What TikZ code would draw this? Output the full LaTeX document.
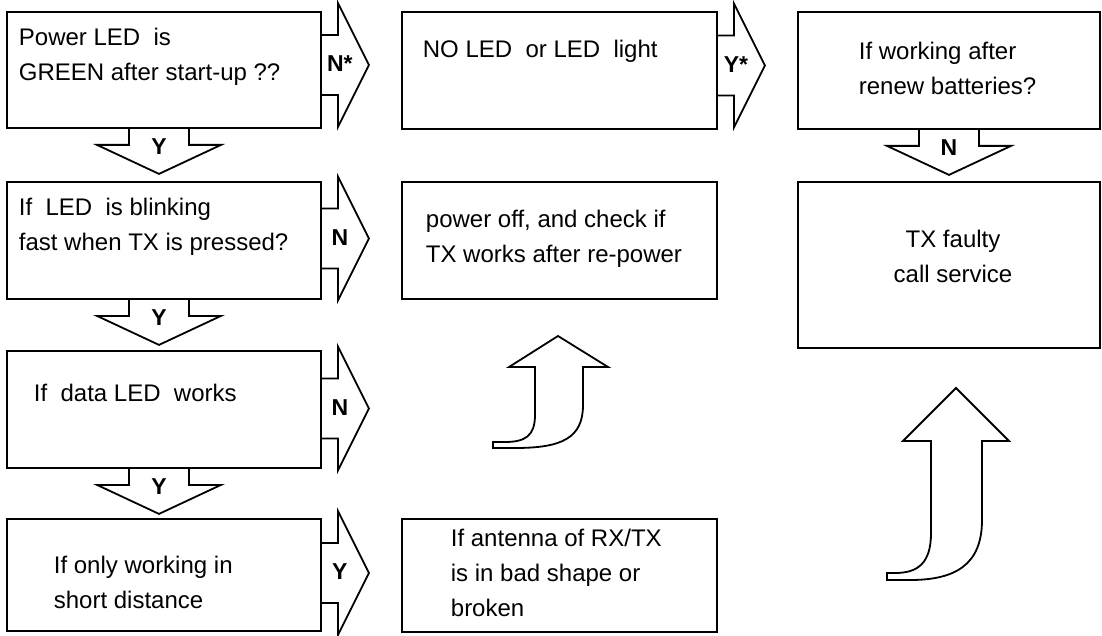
\documentclass[tikz,border=0pt]{standalone}
\usepackage{fontspec}
\setmainfont{Liberation Sans}
\usepackage{tikz}
\usetikzlibrary{positioning}

\tikzset{
    pics/rarr/.style={code={
        \draw[blk] (0,-30) -- (16,-30) -- (16,-62) -- (47,0) -- (16,62) -- (16,30) -- (0,30);
        \node[lbl] (-t) at (18,-1) {#1};
    }},
    pics/darr/.style={code={
        \draw[blk] (-30,0) -- (-30,16) -- (-62,16) -- (0,45) -- (62,16) -- (30,16) -- (30,0);
        \node[lbl] (-t) at (0,18) {#1};
    }}
}

\begin{document}
\begin{tikzpicture}[x=1pt, y=-1pt, line width=1.8pt,
    box/.style={draw, inner sep=0pt},
    txt/.style={anchor=base west, align=left, inner sep=0pt, font=\fontsize{24}{35}\selectfont},
    blk/.style={draw},
    lbl/.style={inner sep=0pt, font=\fontsize{23}{23}\selectfont\bfseries}]
    \useasboundingbox (0,0) rectangle (1102,636);

    \node[box, minimum width=314pt, minimum height=116pt] (power) at (164,70) {};
    \node[box, minimum width=314pt, minimum height=117pt] (blink) at (164,240.5) {};
    \node[box, minimum width=314pt, minimum height=117pt] (data) at (164,409.5) {};
    \node[box, minimum width=314pt, minimum height=112pt] (short) at (164,575) {};
    \node[box, minimum width=315pt, minimum height=117pt] (noled) at (559.5,70.5) {};
    \node[box, minimum width=315pt, minimum height=117pt] (repower) at (559.5,240.5) {};
    \node[box, minimum width=315pt, minimum height=113pt] (antenna) at (559.5,575.5) {};
    \node[box, minimum width=302pt, minimum height=117pt] (renew) at (949,70.5) {};
    \node[box, minimum width=302pt, minimum height=166pt] (faulty) at (949,265) {};

    \node[txt] (powert) at (18,81) {Power LED\ \ is\\GREEN after start-up ??};
    \node[txt] (blinkt) at (18,251) {If\ \ LED\ \ is blinking\\fast when TX is pressed?};
    \node[txt] (datat) at (33,401) {If\ \ data LED\ \ works};
    \node[txt] (shortt) at (53,608) {If only working in\\short distance};
    \node[txt] (noledt) at (422,58) {NO LED\ \ or LED\ \ light};
    \node[txt] (repowert) at (425,262) {power off, and check if\\TX works after re-power};
    \node[txt] (antennat) at (450,616) {If antenna of RX/TX\\is in bad shape or\\broken};
    \node[txt] (renewt) at (858,95) {If working after\\renew batteries?};
    \node[txt, anchor=base, align=center] (faultyt) at (953,282) {TX faulty\\call service};

    \pic (a1) at ([yshift=5pt]power.east) {rarr=N*};
    \pic (a2) at ([yshift=2pt]blink.east) {rarr=N};
    \pic (a3) at ([yshift=1pt]data.east) {rarr=N};
    \pic (a4) at ([yshift=2pt]short.east) {rarr=Y};
    \pic (a5) at ([yshift=5pt]noled.east) {rarr=Y*};
    \pic (d1) at ([xshift=-5pt]power.south) {darr=Y};
    \pic (d2) at ([xshift=-5pt]blink.south) {darr=Y};
    \pic (d3) at ([xshift=-5pt]data.south) {darr=Y};
    \pic (d4) at (renew.south) {darr=N};

    \draw[blk] (493,442) -- (493,448) -- (515,448) .. controls (562,448) and (583,438) .. (583,405) -- (583,367) -- (608,367) -- (558,336) -- (509,367) -- (535,367) -- (535,415) .. controls (535,436) and (525,442) .. (505,442) -- cycle;
    \draw[blk] (887,573) -- (887,580) -- (910,580) .. controls (955,580) and (982,565) .. (982,520) -- (982,441) -- (1009,441) -- (956,388) -- (903,441) -- (931,441) -- (931,533) .. controls (931,563) and (918,573) .. (895,573) -- cycle;
\end{tikzpicture}
\end{document}
